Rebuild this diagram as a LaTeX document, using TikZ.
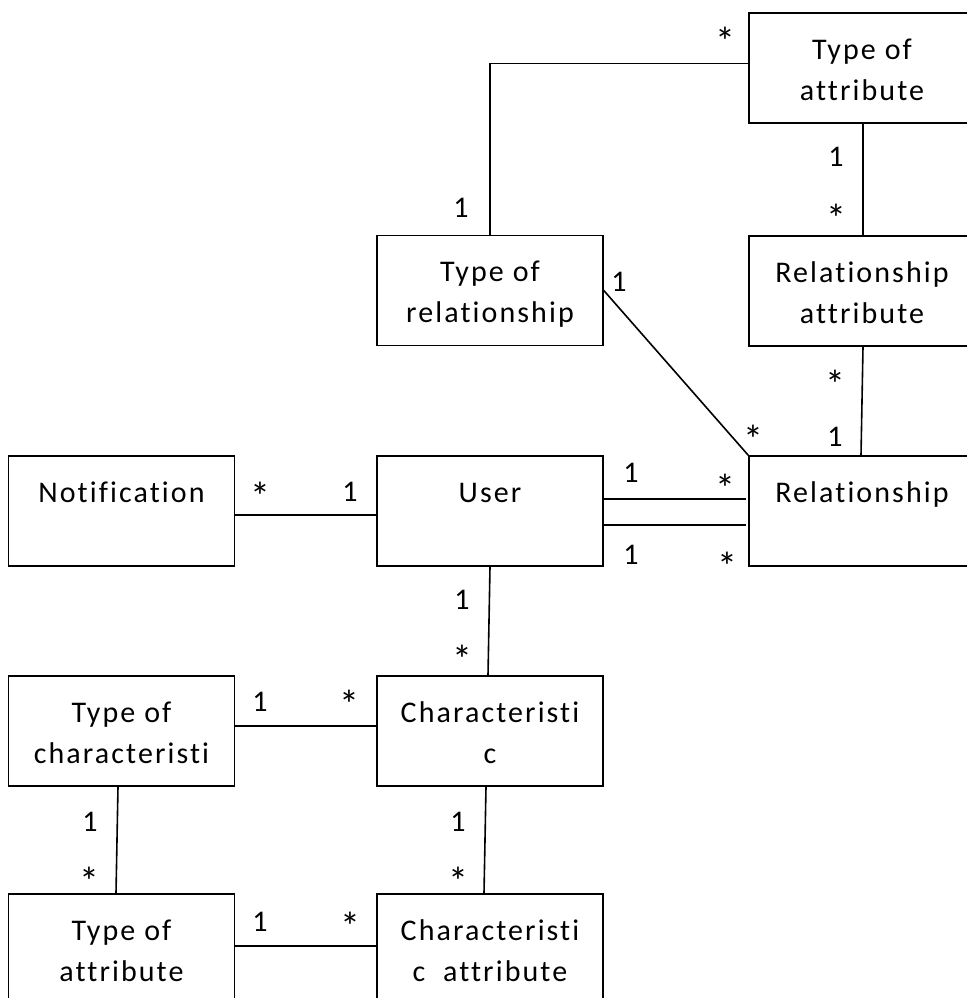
\documentclass[tikz,border=0pt]{standalone}
\usepackage{fontspec}
\setmainfont[LetterSpace=7,Ligatures=NoCommon]{Carlito}
\usepackage{xcolor}

\newcommand{\zeilen}[2]{\rule{0pt}{33pt}#1\\#2\rule[-10pt]{0pt}{10pt}}

\tikzset{
  klasse/.style={draw, line width=1.6pt, minimum width=226pt, minimum height=110pt,
    inner sep=0pt, align=center, font=\fontsize{30}{41}\selectfont},
  verb/.style={line width=1.6pt},
  mult/.style={anchor=base, inner sep=0pt, font=\fontsize{30}{36}\selectfont},
  stern/.style={mult, font=\fontsize{40}{48}\selectfont}
}

\begin{document}
\begin{tikzpicture}[x=1pt,y=-1pt]
\useasboundingbox (0,0) rectangle (966,998);

%Klassen
\node[klasse] (typAttr) at (862,68) {\zeilen{Type of}{attribute}};
\node[klasse] (relAttr) at (862,291) {\zeilen{Relationship}{attribute}};
\node[klasse] (typRel) at (490,290.5) {\zeilen{Type of}{relationship}};
\node[klasse] (notif) at (121.5,511) {\zeilen{Notification}{}};
\node[klasse] (user) at (490,511) {\zeilen{User}{}};
\node[klasse] (rel) at (862,511) {\zeilen{Relationship}{}};
\node[klasse] (typChar) at (121.5,731) {\zeilen{Type of}{characteristi}};
\node[klasse] (charac) at (490,731) {\zeilen{Characteristi}{c}};
\node[klasse] (typAttr2) at (121.5,949) {\zeilen{Type of}{attribute}};
\node[klasse] (charAttr) at (490,949) {\zeilen{Characteristi}{c~~attribute}};

%Verbindungen
\draw[verb] ([yshift=4.5pt]typAttr.west) -| (typRel.north);
\draw[verb] ([xshift=1pt]typAttr.south) -- ([xshift=1pt]relAttr.north);
\draw[verb] ([xshift=1pt]relAttr.south) -- ([xshift=-1pt]rel.north);
\draw[verb] (typRel.east) -- (rel.north west);
\draw[verb] ([yshift=-4pt]notif.east) -- ([yshift=-4pt]user.west);
\draw[verb] ([yshift=12pt]user.east) -- ([yshift=12pt,xshift=-2pt]rel.west);
\draw[verb] ([yshift=-14pt]user.east) -- ([yshift=-14pt,xshift=-2pt]rel.west);
\draw[verb] (user.south) -- ([xshift=-2pt]charac.north);
\draw[verb] ([yshift=5pt]typChar.east) -- ([yshift=5pt]charac.west);
\draw[verb] ([xshift=-3.5pt]typChar.south) -- ([xshift=-5.5pt]typAttr2.north);
\draw[verb] ([xshift=-4pt]charac.south) -- ([xshift=-6pt]charAttr.north);
\draw[verb] ([yshift=3pt]typAttr2.east) -- ([yshift=3pt]charAttr.west);

%Multiplizitaeten
\node[stern] (m1) at (725,56) {*};
\node[mult] (m2) at (461,217.5) {1};
\node[mult] (m3) at (836,166.5) {1};
\node[stern] (m4) at (836,232) {*};
\node[mult] (m5) at (619,291.5) {1};
\node[stern] (m6) at (835,398) {*};
\node[mult] (m7) at (835,446.5) {1};
\node[stern] (m8) at (753,453) {*};
\node[mult] (m9) at (631,482.5) {1};
\node[stern] (m10) at (725,502) {*};
\node[mult] (m11) at (631,564.5) {1};
\node[stern] (m12) at (727,580) {*};
\node[stern] (m13) at (260,510) {*};
\node[mult] (m14) at (350,501.5) {1};
\node[mult] (m15) at (462,609.5) {1};
\node[stern] (m16) at (462,673) {*};
\node[mult] (m17) at (260,711.5) {1};
\node[stern] (m18) at (349,718) {*};
\node[mult] (m19) at (90,831.5) {1};
\node[stern] (m20) at (89,895) {*};
\node[mult] (m21) at (458,831.5) {1};
\node[stern] (m22) at (458,895) {*};
\node[mult] (m23) at (260,931.5) {1};
\node[stern] (m24) at (350,940) {*};

\end{tikzpicture}
\end{document}
